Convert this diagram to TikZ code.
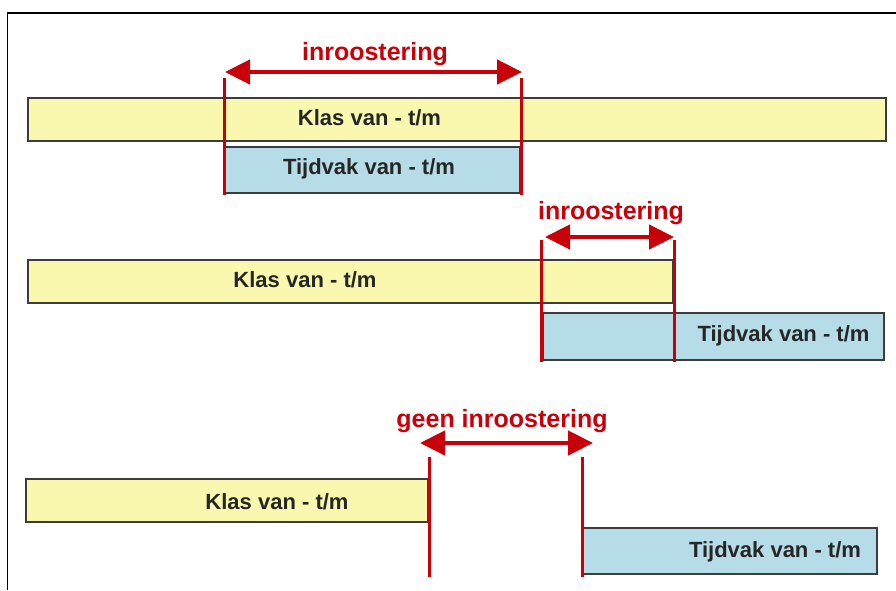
\documentclass[tikz,border=0pt]{standalone}
\usepackage{fontspec}
\setmainfont{Liberation Sans}
\usetikzlibrary{arrows.meta}
\definecolor{klasfill}{HTML}{FAF8AE}
\definecolor{tijdfill}{HTML}{B6DCE7}
\definecolor{redline}{HTML}{C8000A}
\definecolor{boxedge}{HTML}{3C3C3C}
\definecolor{txt}{HTML}{262626}
\begin{document}
\begin{tikzpicture}[x=1pt,y=-1pt,
  bar/.style={draw=boxedge,line width=1.3pt,rectangle,inner sep=0pt,outer sep=0pt,anchor=north west},
  klas/.style={bar,fill=klasfill},
  tijd/.style={bar,fill=tijdfill},
  bartext/.style={font=\bfseries\fontsize{22}{26}\selectfont,text=txt,inner sep=0pt},
  redtext/.style={font=\bfseries\fontsize{25}{29}\selectfont,text=redline,inner sep=0pt},
  marker/.style={draw=redline,line width=3pt},
  span/.style={draw=redline,line width=4.5pt,{Triangle[length=25pt,width=24pt]}-{Triangle[length=25pt,width=24pt]}}]
\useasboundingbox (0,0) rectangle (896,590);
% frame
\draw[line width=1.6pt,black] (7.5,590) -- (7.5,13) -- (896,13);
% row 1
\node[klas,minimum width=858pt,minimum height=43pt] (k1) at (28,98) {};
\node[tijd,minimum width=295pt,minimum height=46pt] (t1) at (225,147) {};
\node[bartext] (k1t) at (369.5,118) {Klas van - t/m};
\node[bartext] (t1t) at (369,169) {Tijdvak van - t/m};
\coordinate (a1) at (224,78); \coordinate (a1b) at (224,195);
\coordinate (b1) at (521,78); \coordinate (b1b) at (521,195);
\draw[marker] (a1) -- (a1b);
\draw[marker] (b1) -- (b1b);
\coordinate (s1) at (225,72); \coordinate (e1) at (522,72);
\draw[span] (s1) -- (e1);
\node[redtext] (l1) at (375,54) {inroostering};
% row 2
\node[klas,minimum width=645pt,minimum height=43pt] (k2) at (28,260) {};
\node[tijd,minimum width=341pt,minimum height=47pt] (t2) at (543,313) {};
\node[bartext] (k2t) at (305,280) {Klas van - t/m};
\node[bartext] (t2t) at (783.5,336) {Tijdvak van - t/m};
\coordinate (a2) at (541,240); \coordinate (a2b) at (541,362);
\coordinate (b2) at (674,240); \coordinate (b2b) at (674,362);
\draw[marker] (a2) -- (a2b);
\draw[marker] (b2) -- (b2b);
\coordinate (s2) at (545,237); \coordinate (e2) at (674,237);
\draw[span] (s2) -- (e2);
\node[redtext] (l2) at (611,213) {inroostering};
% row 3
\node[klas,minimum width=402pt,minimum height=43pt] (k3) at (26,479) {};
\node[tijd,minimum width=294pt,minimum height=46pt] (t3) at (583,528) {};
\node[bartext] (k3t) at (277,502) {Klas van - t/m};
\node[bartext] (t3t) at (775,552) {Tijdvak van - t/m};
\coordinate (a3) at (429,457); \coordinate (a3b) at (429,577);
\coordinate (b3) at (582,457); \coordinate (b3b) at (582,577);
\draw[marker] (a3) -- (a3b);
\draw[marker] (b3) -- (b3b);
\coordinate (s3) at (420,443); \coordinate (e3) at (593,443);
\draw[span] (s3) -- (e3);
\node[redtext] (l3) at (502,421) {geen inroostering};
\end{tikzpicture}
\end{document}
